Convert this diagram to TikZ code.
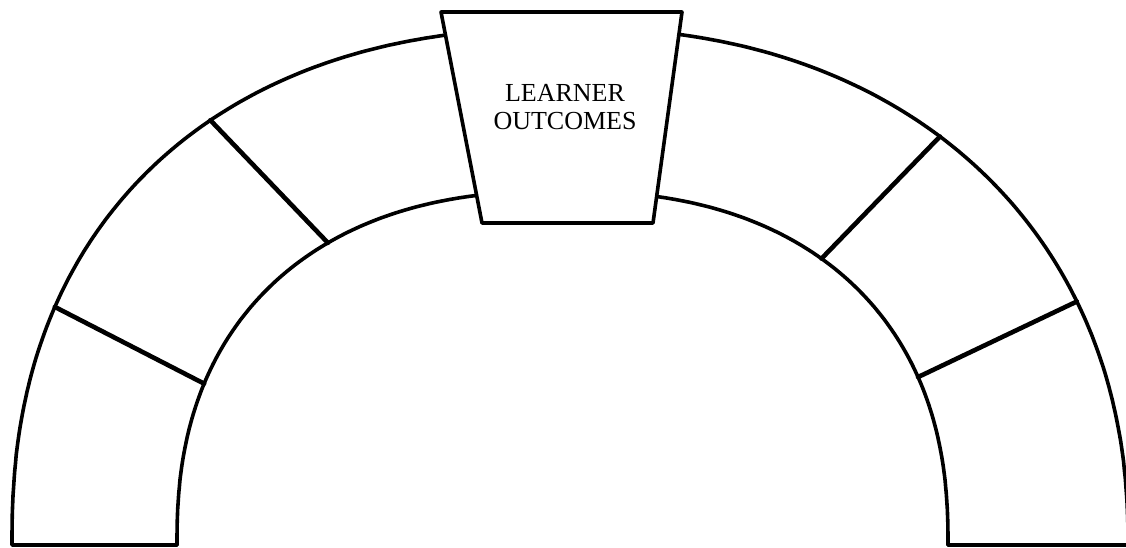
\documentclass[tikz,border=0pt]{standalone}
\usepackage{fontspec}
\setmainfont{Liberation Serif}
\begin{document}
\begin{tikzpicture}[x=1pt,y=-1pt,line join=round,line cap=round]
\tikzset{
  archline/.style={line width=3.6pt},
  jointline/.style={line width=4.6pt},
  keylabel/.style={align=center,font=\fontsize{26}{28}\selectfont,inner sep=0pt}
}
\useasboundingbox (0,0) rectangle (1126,548);
% joint end points, placed on the curves
\coordinate (luo) at ({570-558*(abs(cos(127.1)))^(0.8696)},{545-517*(abs(sin(127.1)))^(0.8696)});
\coordinate (lui) at ({562.5-385.5*(abs(cos(123.9)))^(0.851)},{545-354*(abs(sin(123.9)))^(0.851)});
\coordinate (llo) at ({570-558*(abs(cos(155.8)))^(0.8696)},{545-517*(abs(sin(155.8)))^(0.8696)});
\coordinate (lli) at ({562.5-385.5*(abs(cos(156.6)))^(0.851)},{545-354*(abs(sin(156.6)))^(0.851)});
\coordinate (ruo) at ({570+558*(abs(cos(50.5)))^(0.909)},{545-517*(abs(sin(50.5)))^(0.909)});
\coordinate (rui) at ({562.5+385.5*(abs(cos(51.2)))^(0.851)},{545-354*(abs(sin(51.2)))^(0.851)});
\coordinate (rlo) at ({570+558*(abs(cos(25.9)))^(0.909)},{545-517*(abs(sin(25.9)))^(0.909)});
\coordinate (rli) at ({562.5+385.5*(abs(cos(24.6)))^(0.851)},{545-354*(abs(sin(24.6)))^(0.851)});
% left half of the arch (super-ellipses)
\draw[archline] (177,545) -- (12,545) -- plot[domain=179.9:91,samples=120,variable=\t]
  ({570-558*(abs(cos(\t)))^(0.8696)},{545-517*(abs(sin(\t)))^(0.8696)});
\draw[archline] plot[domain=91:179.9,samples=120,variable=\t]
  ({562.5-385.5*(abs(cos(\t)))^(0.851)},{545-354*(abs(sin(\t)))^(0.851)}) -- (177,545);
% right half of the arch
\draw[archline] (948,545) -- (1128,545) -- plot[domain=0.1:89,samples=120,variable=\t]
  ({570+558*(abs(cos(\t)))^(0.909)},{545-517*(abs(sin(\t)))^(0.909)});
\draw[archline] plot[domain=89:0.1,samples=120,variable=\t]
  ({562.5+385.5*(abs(cos(\t)))^(0.851)},{545-354*(abs(sin(\t)))^(0.851)}) -- (948,545);
% joints
\draw[jointline] (luo) -- (lui);
\draw[jointline] (llo) -- (lli);
\draw[jointline] (ruo) -- (rui);
\draw[jointline] (rlo) -- (rli);
% keystone
\draw[archline,fill=white] (441,12) -- (682,12) -- (653,223) -- (482,223) -- cycle;
\node[keylabel] (ks) at (565,107) {LEARNER\\OUTCOMES};
\end{tikzpicture}
\end{document}
